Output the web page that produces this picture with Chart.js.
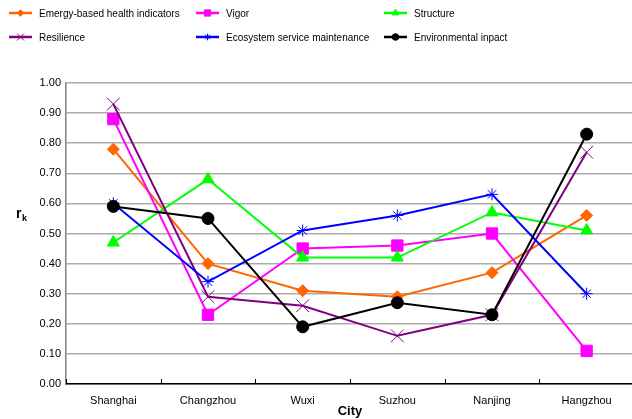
<!DOCTYPE html>
<html>
<head>
<meta charset="utf-8">
<script src="https://cdn.jsdelivr.net/npm/chart.js@4/dist/chart.umd.min.js"></script>
<style>
  html, body { margin: 0; padding: 0; background: #fff; overflow: hidden; }
  #myChart { display: block; }
</style>
</head>
<body>
<canvas id="myChart" width="644" height="419"></canvas>
<script>
const cities = ["Shanghai", "Changzhou", "Wuxi", "Suzhou", "Nanjing", "Hangzhou"];

const emergyHealth = [0.78, 0.40, 0.31, 0.29, 0.37, 0.56];
const vigor = [0.88, 0.23, 0.45, 0.46, 0.50, 0.11];
const structure = [0.47, 0.68, 0.42, 0.42, 0.57, 0.51];
const resilience = [0.93, 0.29, 0.26, 0.16, 0.23, 0.77];
const ecoService = [0.60, 0.34, 0.51, 0.56, 0.63, 0.30];
const envImpact = [0.59, 0.55, 0.19, 0.27, 0.23, 0.83];

const yTicks = [0, 0.1, 0.2, 0.3, 0.4, 0.5, 0.6, 0.7, 0.8, 0.9, 1.0];

const FONT = "'Liberation Sans', Arial, sans-serif";

function series(label, data, color, style, radius) {
  return {
    label: label,
    data: data,
    borderColor: color,
    backgroundColor: color,
    pointBackgroundColor: color,
    pointBorderColor: color,
    pointStyle: style,
    pointRadius: radius,
    pointBorderWidth: 1,
    borderWidth: 2,
    tension: 0,
    fill: false
  };
}

const datasets = [
  series("Emergy-based health indicators", emergyHealth, "#FF6600", "rectRot", 6),
  series("Vigor", vigor, "#FF00FF", "rect", 8),
  series("Structure", structure, "#00FF00", "triangle", 7),
  series("Resilience", resilience, "#800080", "crossRot", 9),
  series("Ecosystem service maintenance", ecoService, "#0000FF", "star", 6),
  series("Environmental inpact", envImpact, "#000000", "circle", 6)
];
// later series sit on top
datasets.forEach((d, i) => { d.order = datasets.length - i; });

// legend in two rows of three, drawn by hand
const legendCols = [9, 196, 384];
const legendRows = [13, 37];
const legendPlugin = {
  id: "gridLegend",
  afterDraw(chart) {
    const ctx = chart.ctx;
    ctx.save();
    chart.data.datasets.forEach((ds, i) => {
      const x = legendCols[i % 3];
      const y = legendRows[Math.floor(i / 3)];
      ctx.strokeStyle = ds.borderColor;
      ctx.lineWidth = 2.5;
      ctx.beginPath();
      ctx.moveTo(x, y);
      ctx.lineTo(x + 23, y);
      ctx.stroke();
      ctx.fillStyle = ds.borderColor;
      ctx.lineWidth = 1;
      Chart.helpers.drawPoint(ctx, {
        pointStyle: ds.pointStyle,
        radius: Math.max(3, ds.pointRadius * 0.55),
        rotation: 0,
        borderWidth: 1
      }, x + 11.5, y);
      ctx.fillStyle = "#000";
      ctx.font = "10px " + FONT;
      ctx.textBaseline = "middle";
      ctx.textAlign = "left";
      ctx.fillText(ds.label, x + 30, y + 1);
    });

    // y axis title r with subscript k
    ctx.font = "bold 14px " + FONT;
    ctx.textBaseline = "alphabetic";
    ctx.fillText("r", 16, 218);
    ctx.font = "bold 9px " + FONT;
    ctx.fillText("k", 22, 221);
    ctx.restore();
  }
};

// short tick marks on the category axis, pointing up into the plot
const xTickPlugin = {
  id: "innerTicks",
  afterDraw(chart) {
    const xs = chart.scales.x;
    const bottom = chart.chartArea.bottom;
    const ctx = chart.ctx;
    ctx.save();
    ctx.strokeStyle = "#000";
    ctx.lineWidth = 1;
    for (let i = 0; i <= cities.length; i++) {
      const px = Math.round(xs.getPixelForValue(i - 0.5)) + 0.5;
      ctx.beginPath();
      ctx.moveTo(px, bottom - 5);
      ctx.lineTo(px, bottom);
      ctx.stroke();
    }
    ctx.restore();
  }
};

new Chart("myChart", {
  type: "line",
  data: { labels: cities, datasets: datasets },
  plugins: [legendPlugin, xTickPlugin],
  options: {
    responsive: false,
    animation: false,
    layout: { padding: { top: 83, right: 0, left: 0, bottom: 0 } },
    plugins: {
      legend: { display: false },
      tooltip: { enabled: false }
    },
    scales: {
      x: {
        offset: true,
        grid: {
          display: false
        },
        border: { color: "#000", width: 1.5 },
        ticks: {
          color: "#000",
          padding: 2,
          maxRotation: 0,
          font: { family: FONT, size: 11 }
        },
        title: {
          display: true,
          text: "City",
          color: "#000",
          padding: { top: 0, bottom: 0 },
          font: { family: FONT, size: 13, weight: "bold" }
        },
        afterFit(scale) { scale.height = 35; }
      },
      y: {
        min: 0,
        max: 1,
        afterBuildTicks(scale) {
          scale.ticks = yTicks.map(v => ({ value: v }));
        },
        grid: {
          color: "#ABABAB",
          lineWidth: 1.5,
          drawTicks: false
        },
        border: { color: "#808080", width: 1.5 },
        ticks: {
          color: "#000",
          padding: 5,
          callback: v => Number(v).toFixed(2),
          font: { family: FONT, size: 11 }
        },
        afterFit(scale) { scale.width = 66; }
      }
    }
  }
});
</script>
</body>
</html>
